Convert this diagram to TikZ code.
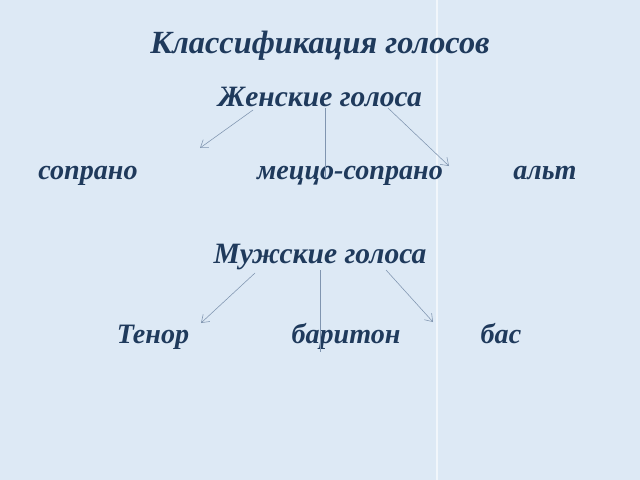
\documentclass[tikz,border=0pt]{standalone}
\usepackage{fontspec}
\setmainfont{Liberation Serif}
\usepackage{xcolor}
\usetikzlibrary{positioning, calc, arrows.meta}

\definecolor{bgblue}{HTML}{DDE9F5}
\definecolor{textblue}{HTML}{1F3A5C}
\definecolor{arrowgray}{HTML}{8095B0}

\begin{document}
\begin{tikzpicture}[x=0.025cm, y=-0.025cm,
				VoiceText/.style={text=textblue, font=\fontsize{20}{24}\selectfont\bfseries\itshape, inner sep=0pt, anchor=base},
				GroupText/.style={VoiceText, font=\fontsize{21}{25}\selectfont\bfseries\itshape},
				Branch/.style={draw=arrowgray, thin, -{Straight Barb[length=5pt, width=7pt]}},
				Stem/.style={draw=arrowgray, thin}]

			\fill[bgblue] (0,0) rectangle (640,480);
			\useasboundingbox (0,0) rectangle (640,480);
			\draw[white, opacity=0.6, line width=1pt] (437,0) -- (437,480);

			\node[GroupText, font=\fontsize{23}{27}\selectfont\bfseries\itshape] (Title) at (320,53) {Классификация голосов};

			% female voices
			\node[GroupText] (Female) at (320,106) {Женские голоса};
			\node[VoiceText] (Soprano) at (88,179) {сопрано};
			\node[VoiceText] (Mezzo) at (350,179) {меццо-сопрано};
			\node[VoiceText] (Alto) at (545,179) {альт};

			\coordinate (FL0) at (253,110);
			\coordinate (FL1) at (200,148);
			\coordinate (FM0) at (325,108);
			\coordinate (FM1) at (325,178);
			\coordinate (FR0) at (388,108);
			\coordinate (FR1) at (449,166);
			\draw[Branch] (FL0) -- (FL1);
			\draw[Stem] (FM0) -- (FM1);
			\draw[Branch] (FR0) -- (FR1);

			% male voices
			\node[GroupText] (Male) at (320,263) {Мужские голоса};
			\node[VoiceText] (Tenor) at (153,343) {Тенор};
			\node[VoiceText] (Baritone) at (346,343) {баритон};
			\node[VoiceText] (Bass) at (501,343) {бас};

			\coordinate (ML0) at (255,273);
			\coordinate (ML1) at (201,323);
			\coordinate (MM0) at (320,270);
			\coordinate (MM1) at (320,352);
			\coordinate (MR0) at (386,270);
			\coordinate (MR1) at (433,322);
			\draw[Branch] (ML0) -- (ML1);
			\draw[Stem] (MM0) -- (MM1);
			\draw[Branch] (MR0) -- (MR1);
		\end{tikzpicture}
\end{document}
